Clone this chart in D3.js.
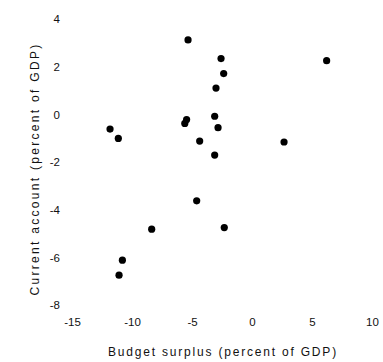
<!DOCTYPE html>
<html>
<head>
<meta charset="utf-8">
<script src="https://cdn.jsdelivr.net/npm/d3@7"></script>
<style>
  body { margin: 0; background: #fff; }
  text { font-family: "Liberation Sans", Arial, sans-serif; fill: #111; }
</style>
</head>
<body>
<svg id="chart"></svg>
<script>
// budget surplus vs current account, percent of GDP
const budget  = [-5.33, -2.58, -2.36, -3.0, 6.22, -5.6, -5.45, -3.11, -2.83, -4.36, 2.67, -3.11, -11.83, -11.14, -4.61, -8.36, -10.8, -11.08, -2.31];
const account = [3.12, 2.34, 1.71, 1.10, 2.25, -0.38, -0.22, -0.08, -0.56, -1.12, -1.16, -1.71, -0.62, -1.01, -3.63, -4.82, -6.12, -6.75, -4.75];
const xTicks = [-15, -10, -5, 0, 5, 10];
const yTicks = [4, 2, 0, -2, -4, -6, -8];

const width = 383, height = 362;

const svg = d3.select('#chart')
    .attr('width', width)
    .attr('height', height);

const x = d3.scaleLinear().domain([-15, 10]).range([72, 372]);
const y = d3.scaleLinear().domain([-8, 4]).range([305, 19]);

// axes with no lines, only labels (plain hyphen for negatives)
const xAxis = d3.axisBottom(x).tickValues(xTicks).tickSize(0).tickPadding(0).tickFormat(d => String(d));
const yAxis = d3.axisLeft(y).tickValues(yTicks).tickSize(0).tickPadding(0).tickFormat(d => String(d));

const gx = svg.append('g').attr('transform', 'translate(0,318)').call(xAxis);
const gy = svg.append('g').attr('transform', 'translate(60,0)').call(yAxis);
[gx, gy].forEach(g => {
    g.select('.domain').remove();
    g.selectAll('text')
        .style('font-family', '"Liberation Sans", Arial, sans-serif')
        .style('font-size', '11.5px')
        .attr('fill', '#111');
});

svg.append('g')
    .selectAll('circle')
    .data(budget.map((b, i) => [b, account[i]]))
    .enter().append('circle')
    .attr('cx', d => x(d[0]))
    .attr('cy', d => y(d[1]))
    .attr('r', 3.6)
    .attr('fill', '#000');

svg.append('text')
    .attr('x', 223)
    .attr('y', 356)
    .attr('text-anchor', 'middle')
    .style('font-size', '12px')
    .style('letter-spacing', '1.8px')
    .text('Budget surplus (percent of GDP)');

svg.append('text')
    .attr('transform', 'translate(39,169) rotate(-90)')
    .attr('text-anchor', 'middle')
    .style('font-size', '12px')
    .style('letter-spacing', '2.3px')
    .text('Current account (percent of GDP)');
</script>
</body>
</html>
